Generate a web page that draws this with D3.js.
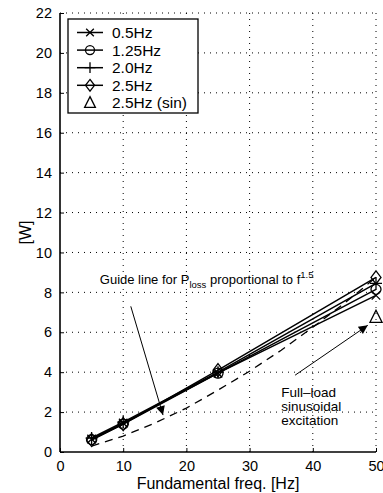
<!DOCTYPE html>
<html>
<head>
<meta charset="utf-8">
<script src="https://cdn.jsdelivr.net/npm/d3@7"></script>
<style>
  body { margin: 0; background: #fff; }
  text { font-family: "Liberation Sans", Arial, Helvetica, sans-serif; fill: #000; }
</style>
</head>
<body>
<svg id="chart"></svg>
<script>
// data
const freqs = [5, 10, 25, 50];
const seriesNames = ["0.5Hz", "1.25Hz", "2.0Hz", "2.5Hz", "2.5Hz (sin)"];
const loss05 = [0.65, 1.45, 3.95, 7.85];
const loss125 = [0.62, 1.40, 3.95, 8.15];
const loss20 = [0.70, 1.50, 4.00, 8.45];
const loss25 = [0.60, 1.40, 4.10, 8.75];
const sinFreq = [50];
const sinLoss = [6.75];
const guideFreq = [5, 10, 15, 20, 25, 30, 35, 40, 45, 50];
const guideLoss = [0.3, 0.8, 1.45, 2.2, 3.1, 4.05, 5.1, 6.25, 7.45, 8.75];
const xTicks = [0, 10, 20, 30, 40, 50];
const yTicks = [0, 2, 4, 6, 8, 10, 12, 14, 16, 18, 20, 22];

const width = 383;
const height = 493;
const margin = { top: 13, right: 7, bottom: 41, left: 60 };

const svg = d3.select("#chart").attr("width", width).attr("height", height);

const xScale = d3.scaleLinear().domain([0, 50]).range([margin.left, width - margin.right]);
const yScale = d3.scaleLinear().domain([0, 22]).range([height - margin.bottom, margin.top]);

// grid
svg.append("g").selectAll("line").data(xTicks.slice(1)).join("line")
    .attr("x1", d => xScale(d)).attr("x2", d => xScale(d))
    .attr("y1", yScale(0)).attr("y2", yScale(22))
    .attr("stroke", "#000").attr("stroke-width", 1).attr("stroke-dasharray", "1,5");
svg.append("g").selectAll("line").data(yTicks.slice(1)).join("line")
    .attr("y1", d => yScale(d)).attr("y2", d => yScale(d))
    .attr("x1", xScale(0)).attr("x2", xScale(50))
    .attr("stroke", "#000").attr("stroke-width", 1).attr("stroke-dasharray", "1,5");

// axes
const xAxis = svg.append("g")
    .attr("transform", `translate(0,${yScale(0)})`)
    .call(d3.axisBottom(xScale).tickValues(xTicks).tickSize(-4).tickPadding(9));
const yAxis = svg.append("g")
    .attr("transform", `translate(${xScale(0)},0)`)
    .call(d3.axisLeft(yScale).tickValues(yTicks).tickSize(-4).tickPadding(8));
[xAxis, yAxis].forEach(a => {
    a.select(".domain").attr("stroke", "#000").attr("stroke-width", 1.6);
    a.selectAll(".tick line").attr("stroke", "#000");
    a.selectAll("text").style("font-size", "14.5px").attr("fill", "#000")
        .style("font-family", "'Liberation Sans', Arial, sans-serif");
});
xAxis.select(".domain").attr("d", `M${xScale(0)},0H${xScale(50)}`);
yAxis.select(".domain").attr("d", `M0,${yScale(0)}V${yScale(22)}`);

svg.append("text")
    .attr("x", (xScale(0) + xScale(50)) / 2)
    .attr("y", height - 4)
    .attr("text-anchor", "middle")
    .style("font-size", "16px")
    .text("Fundamental freq. [Hz]");

svg.append("text")
    .attr("transform", `translate(31,${(yScale(0) + yScale(22)) / 2}) rotate(-90)`)
    .attr("text-anchor", "middle")
    .style("font-size", "16px")
    .text("[W]");

// markers
function drawMarker(g, type, x, y, s = 5) {
    if (type === "x") {
        const k = s * 0.85;
        g.append("path").attr("d", `M${x - k},${y - k}L${x + k},${y + k}M${x - k},${y + k}L${x + k},${y - k}`)
            .attr("stroke", "#000").attr("stroke-width", 1.3).attr("fill", "none");
    } else if (type === "o") {
        g.append("circle").attr("cx", x).attr("cy", y).attr("r", s)
            .attr("stroke", "#000").attr("stroke-width", 1.3).attr("fill", "none");
    } else if (type === "+") {
        g.append("path").attr("d", `M${x - s * 1.2},${y}L${x + s * 1.2},${y}M${x},${y - s * 1.2}L${x},${y + s * 1.2}`)
            .attr("stroke", "#000").attr("stroke-width", 1.3).attr("fill", "none");
    } else if (type === "d") {
        g.append("path").attr("d", `M${x},${y - s * 1.3}L${x + s},${y}L${x},${y + s * 1.3}L${x - s},${y}Z`)
            .attr("stroke", "#000").attr("stroke-width", 1.3).attr("fill", "none");
    } else if (type === "t") {
        g.append("path").attr("d", `M${x},${y - s * 1.4}L${x + s * 1.2},${y + s}L${x - s * 1.2},${y + s}Z`)
            .attr("stroke", "#000").attr("stroke-width", 1.3).attr("fill", "none");
    }
}

const line = d3.line().x(d => xScale(d[0])).y(d => yScale(d[1]));

// guide line (f^1.5)
svg.append("path")
    .datum(guideFreq.map((f, i) => [f, guideLoss[i]]))
    .attr("d", line)
    .attr("fill", "none").attr("stroke", "#000").attr("stroke-width", 1.3)
    .attr("stroke-dasharray", "8,6");

const series = [
    { vals: loss05, m: "x" },
    { vals: loss125, m: "o" },
    { vals: loss20, m: "+" },
    { vals: loss25, m: "d" }
];
const plot = svg.append("g");
series.forEach(s => {
    const pts = freqs.map((f, i) => [f, s.vals[i]]);
    plot.append("path").datum(pts).attr("d", line)
        .attr("fill", "none").attr("stroke", "#000").attr("stroke-width", 1.5);
    pts.forEach(p => drawMarker(plot, s.m, xScale(p[0]), yScale(p[1])));
});
sinFreq.forEach((f, i) => drawMarker(plot, "t", xScale(f), yScale(sinLoss[i])));

// annotations
const defs = svg.append("defs");
defs.append("marker").attr("id", "arrow")
    .attr("viewBox", "0 0 10 10").attr("refX", 10).attr("refY", 5)
    .attr("markerWidth", 14).attr("markerHeight", 9).attr("markerUnits", "userSpaceOnUse")
    .attr("orient", "auto")
    .append("path").attr("d", "M0,0L10,5L0,10Z").attr("fill", "#000");

const arrows = [
    [[11.2, 7.3], [16.3, 1.85]],
    [[37.2, 3.85], [48.7, 6.35]]
];
arrows.forEach(a => {
    svg.append("line")
        .attr("x1", xScale(a[0][0])).attr("y1", yScale(a[0][1]))
        .attr("x2", xScale(a[1][0])).attr("y2", yScale(a[1][1]))
        .attr("stroke", "#000").attr("stroke-width", 1)
        .attr("marker-end", "url(#arrow)");
});

const guideText = svg.append("text")
    .attr("x", xScale(6.3)).attr("y", yScale(8.4))
    .style("font-size", "13px");
guideText.append("tspan").text("Guide line for P");
guideText.append("tspan").attr("dy", 4).style("font-size", "9.5px").text("loss");
guideText.append("tspan").attr("dy", -4).text(" proportional to f");
guideText.append("tspan").attr("dy", -6).style("font-size", "9.5px").text("1.5");

const noteLines = ["Full–load", "sinusoidal", "excitation"];
svg.append("g").selectAll("text").data(noteLines).join("text")
    .attr("x", xScale(35.0))
    .attr("y", (d, i) => yScale(2.76) + i * 14)
    .style("font-size", "13.5px")
    .text(d => d);

// legend
const legend = svg.append("g").attr("transform", "translate(68,19)");
legend.append("rect").attr("width", 130).attr("height", 94)
    .attr("fill", "#fff").attr("stroke", "#000").attr("stroke-width", 1.3);
const legMarks = ["x", "o", "+", "d", "t"];
seriesNames.forEach((name, i) => {
    const y = 13.5 + i * 17.6;
    if (i < 4) {
        legend.append("line").attr("x1", 9).attr("x2", 35).attr("y1", y).attr("y2", y)
            .attr("stroke", "#000").attr("stroke-width", 1.5);
    }
    drawMarker(legend, legMarks[i], 22, y, 4.5);
    legend.append("text").attr("x", 44).attr("y", y + 5.5)
        .style("font-size", "15.5px").text(name);
});
</script>
</body>
</html>
